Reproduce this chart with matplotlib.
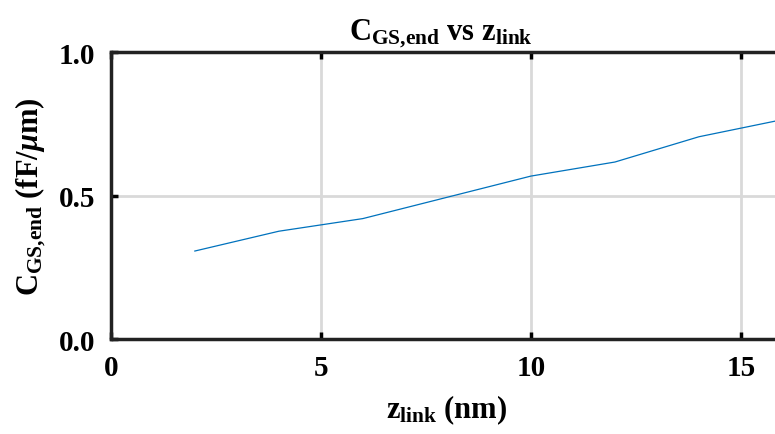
import matplotlib.pyplot as plt
import numpy as np

# data
z_link = [2, 4, 6, 8, 10, 12, 14, 16]
c_gs_end = [0.307, 0.376, 0.42, 0.494, 0.568, 0.617, 0.705, 0.765]

xticks = [0, 5, 10, 15]
yticks = [0.0, 0.5, 1.0]
yticklabels = ['0.0', '0.5', '1.0']

plt.rcParams['font.family'] = ['Liberation Serif', 'DejaVu Serif']
plt.rcParams['font.weight'] = 'bold'
plt.rcParams['mathtext.fontset'] = 'custom'
plt.rcParams['mathtext.rm'] = 'Liberation Serif:bold'
plt.rcParams['mathtext.it'] = 'Liberation Serif:italic:bold'
plt.rcParams['mathtext.bf'] = 'Liberation Serif:bold'

fig = plt.figure(figsize=(7.75, 4.35), dpi=100)
# axes run past the right edge like the cropped original
ax = fig.add_axes([0.143, 0.218, 1.084, 0.660])

ax.plot(z_link, c_gs_end, color='#0072BD', lw=0.9)

ax.set_xlim(0, 20)
ax.set_ylim(0, 1)
ax.set_xticks(xticks)
ax.set_yticks(yticks)
ax.set_yticklabels(yticklabels)
ax.grid(True, color='#d9d9d9', lw=2)
ax.set_axisbelow(True)
for s in ax.spines.values():
    s.set_linewidth(2.5)
    s.set_color('#222222')
ax.tick_params(direction='in', length=5, width=2.5, labelsize=21, pad=11,
               top=True, right=True)

ax.set_title(r'$\mathrm{C_{GS{,}end}}$ vs $\mathrm{z_{link}}$', fontsize=22,
             fontweight='bold', x=0.393, pad=9)
ax.set_xlabel(r'$\mathrm{z_{link}}$ (nm)', fontsize=22, fontweight='bold',
              x=0.40, labelpad=8)
ax.set_ylabel(r'$\mathrm{C_{GS{,}end}}$ (fF/$\mu$m)', fontsize=22,
              fontweight='bold', labelpad=8)

fig.savefig('out.png', dpi=100)
